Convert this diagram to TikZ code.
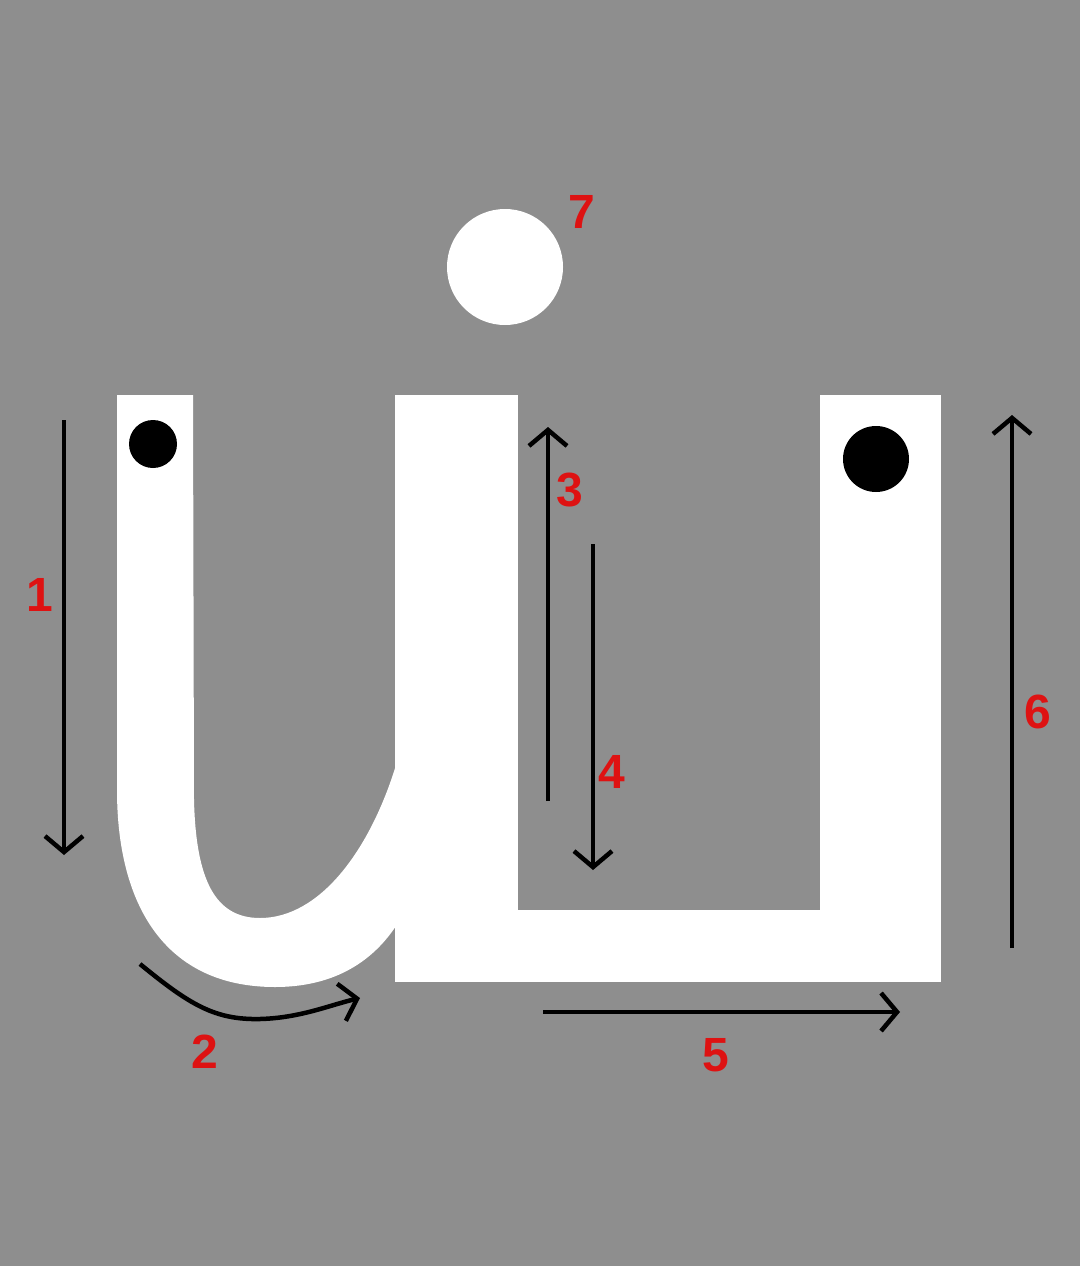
\documentclass[tikz,border=0pt]{standalone}
\usepackage{fontspec}
\setmainfont{Liberation Sans}
\usetikzlibrary{arrows.meta}
\definecolor{bg}{RGB}{142,142,142}
\definecolor{lblred}{RGB}{222,18,18}
\begin{document}
\begin{tikzpicture}[x=1pt,y=-1pt,
  lbl/.style={text=lblred,font=\fontsize{48}{48}\selectfont\bfseries,inner sep=0pt},
  stroke/.style={line width=4.5pt,draw=black,-{Straight Barb[length=16pt,width=38pt,line width=4.5pt]}},
  letter/.style={fill=white,draw=none},
  blackdot/.style={circle,fill=black,inner sep=0pt}]
\fill[bg] (0,0) rectangle (1080,1266);
\useasboundingbox (0,0) rectangle (1080,1266);
% letter shape
\path[letter] (117,395) -- (193,395) -- (194,800)
  .. controls (196,880) and (215,918) .. (260,918)
  .. controls (320,918) and (370,850) .. (396,765)
  -- (396,926)
  .. controls (370,965) and (330,987) .. (275,987)
  .. controls (165,987) and (117,905) .. (117,790) -- cycle;
\path[letter] (395,395) rectangle (518,982);
\path[letter] (395,910) rectangle (941,982);
\path[letter] (820,395) rectangle (941,982);
% dots
\node[blackdot,minimum size=48pt] (dotL) at (153,444) {};
\node[blackdot,minimum size=66pt] (dotR) at (876,459) {};
\node[circle,fill=white,inner sep=0pt,minimum size=116pt] (dotT) at (505,267) {};
% arrow end points
\coordinate (a1s) at (64,420); \coordinate (a1e) at (64,855);
\coordinate (a2s) at (140,964); \coordinate (a2m) at (260,1019); \coordinate (a2e) at (360,998);
\coordinate (a3s) at (548,801); \coordinate (a3e) at (548,427);
\coordinate (a4s) at (593,544); \coordinate (a4e) at (593,870);
\coordinate (a5s) at (543,1012); \coordinate (a5e) at (900,1012);
\coordinate (a6s) at (1012,948); \coordinate (a6e) at (1012,415);
\draw[stroke] (a1s) -- (a1e);
\draw[stroke] (a2s) .. controls (190,1005) and (215,1020) .. (a2m)
  .. controls (300,1018) and (330,1005) .. (a2e);
\draw[stroke] (a3s) -- (a3e);
\draw[stroke] (a4s) -- (a4e);
\draw[stroke] (a5s) -- (a5e);
\draw[stroke] (a6s) -- (a6e);
% labels
\node[lbl] (l1) at (40,595) {1};
\node[lbl] (l2) at (205,1052) {2};
\node[lbl] (l3) at (570,490) {3};
\node[lbl] (l4) at (612,772) {4};
\node[lbl] (l5) at (716,1055) {5};
\node[lbl] (l6) at (1038,712) {6};
\node[lbl] (l7) at (582,212) {7};
\end{tikzpicture}
\end{document}
